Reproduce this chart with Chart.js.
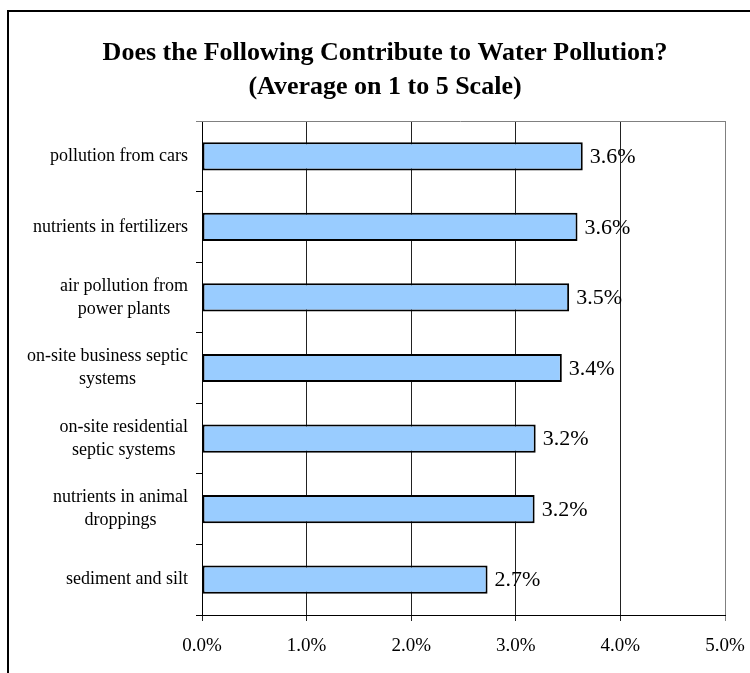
<!DOCTYPE html>
<html>
<head>
<meta charset="utf-8">
<script src="https://cdn.jsdelivr.net/npm/chart.js@4/dist/chart.umd.min.js"></script>
<style>
  html, body { margin: 0; padding: 0; background: #fff; }
  #wrap { width: 750px; height: 673px; }
</style>
</head>
<body>
<div id="wrap"><canvas id="c" width="750" height="673"></canvas></div>
<script>
const titleLines = ["Does the Following Contribute to Water Pollution?", "(Average on 1 to 5 Scale)"];
const categories = [
  ["pollution from cars"],
  ["nutrients in fertilizers"],
  ["air pollution from", "power plants"],
  ["on-site business septic", "systems"],
  ["on-site residential", "septic systems"],
  ["nutrients in animal", "droppings"],
  ["sediment and silt"]
];
const values = [3.64, 3.59, 3.51, 3.44, 3.19, 3.18, 2.73];
const xMin = 0, xMax = 5, xStep = 1;
const fmt = v => Number(v).toFixed(1) + '%';

const SERIF = '"Liberation Serif", "Times New Roman", serif';

const decor = {
  id: 'decor',
  beforeDraw(chart) {
    const ctx = chart.ctx;
    ctx.save();
    // outer frame (left and top visible)
    ctx.strokeStyle = '#000';
    ctx.lineWidth = 2;
    ctx.beginPath();
    ctx.moveTo(8, 800);
    ctx.lineTo(8, 11);
    ctx.lineTo(800, 11);
    ctx.stroke();
    // title
    ctx.fillStyle = '#000';
    ctx.font = 'bold 26px ' + SERIF;
    ctx.textAlign = 'center';
    ctx.textBaseline = 'alphabetic';
    ctx.fillText(titleLines[0], 385, 60);
    ctx.fillText(titleLines[1], 385, 94);
    ctx.restore();
  },
  afterDraw(chart) {
    const ctx = chart.ctx;
    const area = chart.chartArea;
    const ys = chart.scales.y;
    ctx.save();
    // plot area top border (gray)
    ctx.strokeStyle = '#808080';
    ctx.lineWidth = 1;
    ctx.beginPath();
    ctx.moveTo(area.left - 6, Math.round(area.top) + 0.5);
    ctx.lineTo(area.right, Math.round(area.top) + 0.5);
    ctx.stroke();
    // category labels: lines centered to each other, block right-aligned
    ctx.fillStyle = '#000';
    ctx.font = '18px ' + SERIF;
    ctx.textBaseline = 'middle';
    ctx.textAlign = 'center';
    const lh = 23;
    const right = area.left - 14;
    categories.forEach((lines, i) => {
      const y = ys.getPixelForValue(i);
      const w = Math.max(...lines.map(l => ctx.measureText(l).width));
      const cx = right - w / 2;
      lines.forEach((l, j) => {
        ctx.fillText(l, cx, y + (j - (lines.length - 1) / 2) * lh);
      });
    });
    ctx.restore();
  },
  afterDatasetsDraw(chart) {
    const ctx = chart.ctx;
    const meta = chart.getDatasetMeta(0);
    ctx.save();
    ctx.fillStyle = '#000';
    ctx.font = '22px ' + SERIF;
    ctx.textAlign = 'left';
    ctx.textBaseline = 'middle';
    meta.data.forEach((bar, i) => {
      ctx.fillText(fmt(values[i]), bar.x + 7, bar.y + 1);
    });
    ctx.restore();
  }
};

new Chart(document.getElementById('c'), {
  type: 'bar',
  data: {
    labels: categories,
    datasets: [{
      data: values,
      backgroundColor: '#99CCFF',
      borderColor: '#000',
      borderWidth: 2,
      borderSkipped: false,
      barPercentage: 0.4,
      categoryPercentage: 1.0
    }]
  },
  options: {
    indexAxis: 'y',
    responsive: false,
    animation: false,
    layout: { padding: { top: 121, left: 0, right: 25, bottom: 0 } },
    plugins: {
      legend: { display: false },
      title: { display: false },
      tooltip: { enabled: false }
    },
    scales: {
      y: {
        type: 'category',
        afterFit(s) { s.width = 202; },
        ticks: { display: false },
        grid: {
          offset: true,
          drawOnChartArea: false,
          drawTicks: true,
          tickLength: 6,
          color: '#000',
          lineWidth: 1
        },
        border: { display: true, color: '#000', width: 1 }
      },
      x: {
        min: xMin,
        max: xMax,
        afterFit(s) { s.height = 58; s.paddingLeft = 0; s.paddingRight = 0; },
        ticks: {
          stepSize: xStep,
          callback: v => fmt(v),
          color: '#000',
          font: { family: SERIF, size: 19 },
          padding: 14
        },
        grid: {
          color: ctx => (ctx.tick && ctx.tick.value === xMax) ? '#808080' : '#222',
          lineWidth: 1,
          drawTicks: true,
          tickLength: 6
        },
        border: { display: true, color: '#000', width: 1 }
      }
    }
  },
  plugins: [decor]
});
</script>
</body>
</html>
